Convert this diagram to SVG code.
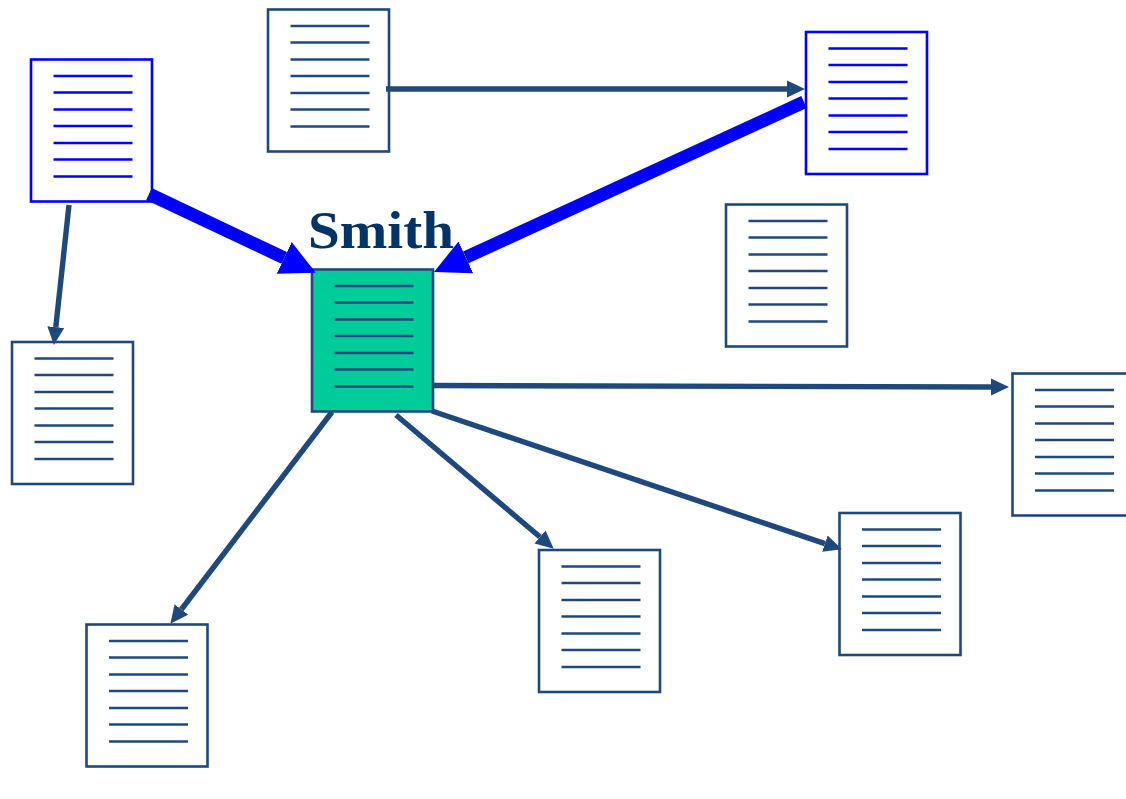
<svg xmlns="http://www.w3.org/2000/svg" width="1126" height="799" viewBox="0 0 1126 799">
<defs>
<path id="lines" d="M22.500 16.500H101.500M22.500 33H101.500M22.500 50H101.500M22.500 66.500H101.500M22.500 83.500H101.500M22.500 100H101.500M22.500 117H101.500"/>
<marker id="a" markerUnits="userSpaceOnUse" markerWidth="18" markerHeight="18" refX="0" refY="9" orient="auto"><path d="M0 0.500L18 9L0 17.500Z" fill="#1f497d"/></marker>
<marker id="b" markerUnits="userSpaceOnUse" markerWidth="36" markerHeight="36" refX="0" refY="18" orient="auto"><path d="M0 0.500L35 18L0 35.500Z" fill="#0000ff"/></marker>
</defs>
<style>
.doc{fill:none;stroke:#1f497d;stroke-width:2.600}
.doc rect{fill:#fff}
.doc use{stroke-width:2.600}
.blue{stroke:#0000ff}
.c{fill:none;stroke:#1f497d;stroke-width:5.400;marker-end:url(#a)}
.t{fill:none;stroke:#0000ff;stroke-width:13;marker-end:url(#b)}
</style>
<rect width="1126" height="799" fill="#fff"/>
<g id="n1" class="doc" transform="translate(268,9.500)"><rect width="121" height="142"/><use href="#lines"/></g>
<g id="n2" class="doc blue" transform="translate(31,59.500)"><rect width="121" height="142"/><use href="#lines"/></g>
<g id="n3" class="doc blue" transform="translate(806,32)"><rect width="121" height="142"/><use href="#lines"/></g>
<g id="n4" class="doc" transform="translate(726,204.500)"><rect width="121" height="142"/><use href="#lines"/></g>
<g id="n5" class="doc" transform="translate(12,342)"><rect width="121" height="142"/><use href="#lines"/></g>
<g id="smith" class="doc" transform="translate(312,269.500)"><rect width="121" height="142" style="fill:#00cc99"/><use href="#lines"/></g>
<g id="n6" class="doc" transform="translate(1012.500,373.500)"><rect width="121" height="142"/><use href="#lines"/></g>
<g id="n7" class="doc" transform="translate(839.500,513)"><rect width="121" height="142"/><use href="#lines"/></g>
<g id="n8" class="doc" transform="translate(539,550)"><rect width="121" height="142"/><use href="#lines"/></g>
<g id="n9" class="doc" transform="translate(86.500,624.500)"><rect width="121" height="142"/><use href="#lines"/></g>
<text x="308" y="248" font-family="'Liberation Serif',serif" font-weight="bold" font-size="53" fill="#003366" textLength="146" lengthAdjust="spacingAndGlyphs">Smith</text>
<g id="connectors">
<path class="c" d="M386 89H787"/>
<path class="c" d="M69 205L55.800 327.100"/>
<path class="c" d="M433 385.500L991 386.960"/>
<path class="c" d="M432 411L824.900 543.600"/>
<path class="c" d="M396 415L540 537"/>
<path class="c" d="M332 412L181.300 609.500"/>
<path class="t" d="M149 194L284.200 257.900"/>
<path class="t" d="M804 102L465.800 257.400"/>
</g>
</svg>
